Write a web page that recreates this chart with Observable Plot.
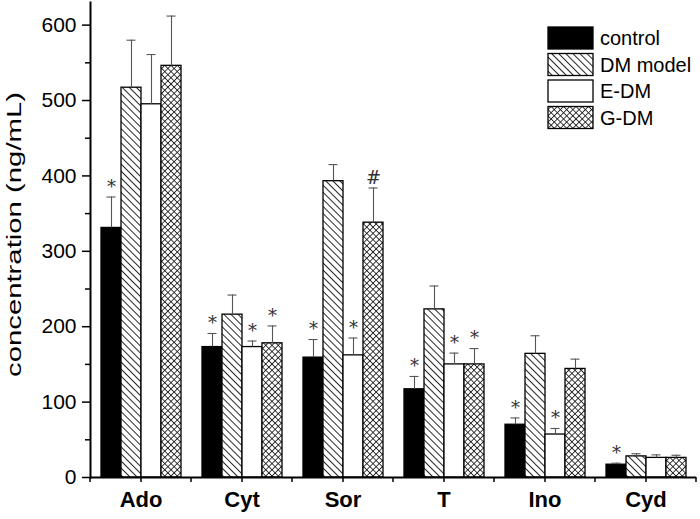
<!DOCTYPE html>
<html>
<head>
<meta charset="utf-8">
<script src="https://cdn.jsdelivr.net/npm/d3@7"></script>
<script src="https://cdn.jsdelivr.net/npm/@observablehq/plot@0.6"></script>
<style>
  html, body { margin: 0; padding: 0; background: #fff; }
  #chart { width: 700px; height: 519px; }
  svg { font-family: "Liberation Sans", Arial, sans-serif; }
</style>
</head>
<body>
<div id="chart"></div>
<script>
const categories = ["Ado", "Cyt", "Sor", "T", "Ino", "Cyd"];
const series = ["control", "DM model", "E-DM", "G-DM"];
const control = [331, 173, 159, 117, 70, 17];
const dmModel = [517, 216, 393, 223, 164, 28];
const eDM = [495, 173, 162, 150, 57, 26];
const gDM = [546, 178, 338, 150, 144, 26];
const controlErr = [41, 18, 24, 17, 9, 2];
const dmModelErr = [63, 26, 22, 31, 24, 3.5];
const eDMErr = [66, 8, 23, 15, 8, 4];
const gDMErr = [66, 23, 46, 21, 13, 3.5];
// significance markers
const controlSig = ["*", "*", "*", "*", "*", "*"];
const dmModelSig = ["", "", "", "", "", ""];
const eDMSig = ["", "*", "*", "*", "*", ""];
const gDMSig = ["", "*", "#", "*", "", ""];
const yTicks = [0, 100, 200, 300, 400, 500, 600];
const yMinorTicks = [50, 150, 250, 350, 450, 550];
const fills = ["black", "url(#hatchDM)", "white", "url(#hatchG)"];

const values = [control, dmModel, eDM, gDM];
const errs = [controlErr, dmModelErr, eDMErr, gDMErr];
const sigs = [controlSig, dmModelSig, eDMSig, gDMSig];

const data = [];
categories.forEach((c, i) => {
  series.forEach((s, j) => {
    data.push({category: c, series: s, value: values[j][i], err: errs[j][i], top: values[j][i] + errs[j][i], sig: sigs[j][i]});
  });
});

const plot = Plot.plot({
  width: 700,
  height: 519,
  marginLeft: 87,
  marginRight: 2,
  marginTop: 2,
  marginBottom: 42,
  style: {fontFamily: '"Liberation Sans", Arial, sans-serif', color: "black", background: "white"},
  fx: {domain: categories, padding: 0, label: null},
  x: {domain: series, paddingInner: 0, paddingOuter: 0.5, axis: null},
  y: {domain: [0, 630], label: null},
  color: {type: "ordinal", domain: series, range: fills},
  marks: [
    Plot.barY(data, {fx: "category", x: "series", y: "value", fill: "series", stroke: "black", strokeWidth: 1.3}),
    Plot.ruleX(data, {fx: "category", x: "series", y1: "value", y2: "top", stroke: "#555", strokeWidth: 1.1}),
    Plot.tickY(data, {fx: "category", x: "series", y: "top", stroke: "#555", strokeWidth: 1.1, inset: 5.5}),
    Plot.text(data, {fx: "category", x: "series", y: "top", text: "sig", dy: -10, fontSize: 18, fontFamily: '"DejaVu Serif", "Liberation Serif", serif', fill: "#333"}),
    Plot.ruleY([0], {stroke: "black", strokeWidth: 2}),
    Plot.frame({anchor: "left", facetAnchor: "left", stroke: "black", strokeWidth: 2}),
    Plot.axisY({ticks: yTicks, tickSize: 8, tickPadding: 6, fontSize: 21, strokeWidth: 1.5, label: null}),
    Plot.axisY({ticks: yMinorTicks, tickSize: 5, text: null, strokeWidth: 1.5, label: null}),
    Plot.axisFx({anchor: "bottom", tickSize: 5, tickPadding: 9, fontSize: 22, fontWeight: "bold", strokeWidth: 1.5, label: null})
  ]
});

const svg = d3.select(plot);
const defs = svg.insert("defs", ":first-child");
const pDM = defs.append("pattern").attr("id", "hatchDM").attr("patternUnits", "userSpaceOnUse")
  .attr("width", 5).attr("height", 5).attr("patternTransform", "rotate(45)");
pDM.append("rect").attr("width", 5).attr("height", 5).attr("fill", "white");
pDM.append("line").attr("x1", 0).attr("y1", 2.5).attr("x2", 5).attr("y2", 2.5).attr("stroke", "#111").attr("stroke-width", 0.9);
const pG = defs.append("pattern").attr("id", "hatchG").attr("patternUnits", "userSpaceOnUse")
  .attr("width", 4.4).attr("height", 4.4).attr("patternTransform", "rotate(45)");
pG.append("rect").attr("width", 4.4).attr("height", 4.4).attr("fill", "white");
pG.append("line").attr("x1", 0).attr("y1", 2.2).attr("x2", 4.4).attr("y2", 2.2).attr("stroke", "#111").attr("stroke-width", 0.8);
pG.append("line").attr("x1", 2.2).attr("y1", 0).attr("x2", 2.2).attr("y2", 4.4).attr("stroke", "#111").attr("stroke-width", 0.8);

// minor x ticks at category boundaries, from the fx scale
const fx = plot.scale("fx");
const yS = plot.scale("y");
const y0 = yS.apply(0);
const bounds = categories.map(c => fx.apply(c));
bounds.push(fx.apply(categories[categories.length - 1]) + fx.bandwidth);
svg.append("g").selectAll("line").data(bounds).join("line")
  .attr("x1", d => d).attr("x2", d => d).attr("y1", y0).attr("y2", y0 + 5)
  .attr("stroke", "black").attr("stroke-width", 1.5);

// y-axis title
svg.append("text")
  .attr("transform", `translate(21,${(yS.apply(0) + yS.apply(630)) / 2 - 5}) rotate(-90)`)
  .attr("text-anchor", "middle")
  .attr("font-size", 20)
  .attr("textLength", 285)
  .attr("lengthAdjust", "spacingAndGlyphs")
  .attr("fill", "black")
  .text("concentration (ng/mL)");

// legend, drawn from the color scale
const color = plot.scale("color");
const lg = svg.append("g").attr("transform", "translate(548,27)");
series.forEach((s, i) => {
  const g = lg.append("g").attr("transform", `translate(0,${i * 26.5})`);
  g.append("rect").attr("width", 45).attr("height", 22).attr("fill", color.apply(s)).attr("stroke", "black").attr("stroke-width", 1.3);
  g.append("text").attr("x", 52).attr("y", 18).attr("text-anchor", "start").attr("font-size", 20).attr("fill", "black").text(s);
});

document.getElementById("chart").appendChild(plot);
</script>
</body>
</html>
